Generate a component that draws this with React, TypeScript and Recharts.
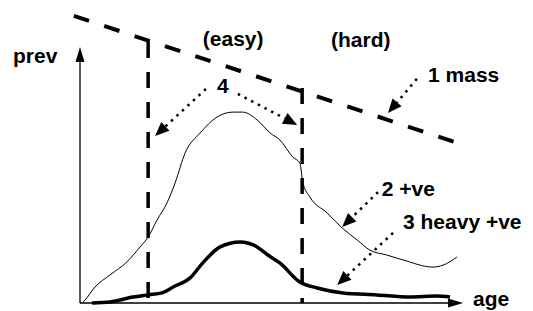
import { LineChart, Line, XAxis, YAxis, ReferenceLine, ReferenceDot } from 'recharts';

// curve 2: "+ve" (thin)
const positiveAge = [0.8, 1.3, 3.9, 7.8, 12.2, 15.6, 17.7, 20.0, 22.6, 24.7, 27.3, 31.2, 35.6, 39.7, 42.3, 46.0, 49.4, 51.9, 55.3, 57.1, 57.9, 59.7, 64.2, 68.1, 72.0, 75.3, 79.7, 83.9, 91.7, 94.3, 97.9];
const positiveValues = [0.4, 1.2, 6.5, 11.4, 16.7, 22.8, 26.8, 33.7, 40.7, 48.8, 61.0, 69.1, 75.6, 77.6, 77.6, 74.4, 69.1, 66.3, 59.3, 56.9, 48.8, 43.1, 36.6, 30.5, 25.6, 21.5, 19.5, 17.5, 14.6, 15.4, 18.7];

// curve 3: "heavy +ve" (thick)
const heavyAge = [3.1, 7.8, 13.8, 17.7, 21.3, 24.2, 28.6, 31.9, 36.4, 41.6, 46.0, 48.8, 51.9, 57.1, 61.6, 68.3, 77.1, 85.7, 92.7, 96.1];
const heavyValues = [0, 0.4, 2.4, 3.3, 4.1, 6.5, 10.2, 16.3, 22.8, 24.8, 22.8, 19.5, 16.3, 8.5, 6.1, 4.1, 3.3, 2.4, 2.8, 2.4];

// curve 1: "mass" (dashed straight line)
const massAge = [-1.6, 97.4];
const massValues = [116.7, 65.4];

// easy / hard boundaries
const boundaryAge = [17.7, 57.7];
const boundaryTop = [106.1, 87.4];

// labels
const labelText = ['prev', '(easy)', '(hard)', '1 mass', '4', '2 +ve', '3 heavy +ve', 'age'];
const labelAge = [-17.4, 31.9, 65.2, 90.4, 35.6, 78.4, 83.9, 102.1];
const labelPrev = [97.6, 104.5, 104.1, 89.8, 85.4, 43.5, 30.1, -1.2];

// dotted pointer arrows: from -> tip
const pointerFrom = [[32.7, 87.0], [41.0, 85.0], [87.5, 91.1], [77.4, 45.1], [81.3, 28.5]];
const pointerTo = [[19.5, 67.9], [56.4, 72.4], [80.0, 77.2], [68.1, 30.9], [66.8, 7.3]];

// axes arrows
const axisFrom = [[0, 0], [0, 0]];
const axisTo = [[0, 104.1], [99.5, 0]];

const zip = (xs: number[], ys: number[]) => xs.map((age, i) => ({ age, prev: ys[i] }));

const arrow = (dash: string | undefined, width: number, len: number, half: number) => (props: any) => {
  const { x1, y1, x2, y2 } = props;
  const d = Math.hypot(x2 - x1, y2 - y1) || 1;
  const ux = (x2 - x1) / d;
  const uy = (y2 - y1) / d;
  const bx = x2 - ux * len;
  const by = y2 - uy * len;
  const pts = `${x2},${y2} ${bx - uy * half},${by + ux * half} ${bx + uy * half},${by - ux * half}`;
  return (
    <g>
      <line x1={x1} y1={y1} x2={bx} y2={by} stroke="#000" strokeWidth={width} strokeDasharray={dash} />
      <polygon points={pts} fill="#000" />
    </g>
  );
};

const textShape = (label: string) => (props: any) => (
  <text
    x={props.cx}
    y={props.cy}
    fontFamily="'Liberation Sans', Arial, sans-serif"
    fontWeight="bold"
    fontSize={21}
    fill="#000"
  >
    {label}
  </text>
);

export default function App() {
  return (
    <div style={{ position: 'absolute', left: 0, top: 0, width: 533, height: 311, background: '#fff' }}>
      <LineChart width={533} height={311} margin={{ top: 7.8, right: 48.75, bottom: 3.08, left: 60.75 }}>
        <XAxis type="number" dataKey="age" domain={[-5, 105]} allowDataOverflow hide />
        <YAxis type="number" dataKey="prev" domain={[-2, 120]} allowDataOverflow hide />

        {axisFrom.map((f, i) => (
          <ReferenceLine
            key={`axis-${i}`}
            segment={[{ x: f[0], y: f[1] }, { x: axisTo[i][0], y: axisTo[i][1] }]}
            shape={arrow(undefined, 1.3, 15, 4.5)}
            ifOverflow="visible"
          />
        ))}

        {boundaryAge.map((a, i) => (
          <ReferenceLine
            key={`b-${i}`}
            segment={[{ x: a, y: boundaryTop[i] }, { x: a, y: 0 }]}
            stroke="#000"
            strokeWidth={3.5}
            strokeDasharray="16 14"
            ifOverflow="visible"
          />
        ))}

        <Line
          data={zip(massAge, massValues)}
          dataKey="prev"
          type="linear"
          stroke="#000"
          strokeWidth={4}
          strokeDasharray="16 16"
          dot={false}
          isAnimationActive={false}
        />
        <Line
          data={zip(positiveAge, positiveValues)}
          dataKey="prev"
          type="monotone"
          stroke="#000"
          strokeWidth={1}
          dot={false}
          isAnimationActive={false}
        />
        <Line
          data={zip(heavyAge, heavyValues)}
          dataKey="prev"
          type="monotone"
          stroke="#000"
          strokeWidth={3.5}
          dot={false}
          isAnimationActive={false}
        />

        {pointerFrom.map((f, i) => (
          <ReferenceLine
            key={`p-${i}`}
            segment={[{ x: f[0], y: f[1] }, { x: pointerTo[i][0], y: pointerTo[i][1] }]}
            shape={arrow('2.5 5', 2.5, 14, 6)}
            ifOverflow="visible"
          />
        ))}

        {labelText.map((t, i) => (
          <ReferenceDot
            key={`t-${i}`}
            x={labelAge[i]}
            y={labelPrev[i]}
            r={0}
            shape={textShape(t)}
            ifOverflow="visible"
          />
        ))}
      </LineChart>
    </div>
  );
}
